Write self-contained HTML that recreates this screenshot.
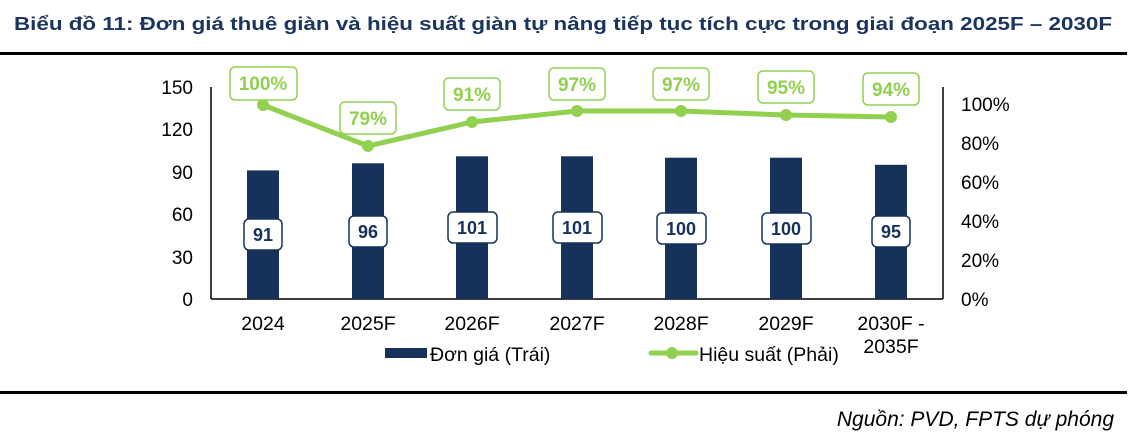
<!DOCTYPE html>
<html><head><meta charset="utf-8"><style>
html,body{margin:0;padding:0;background:#fff;}
svg{display:block;font-family:"Liberation Sans",Arial,sans-serif;}
</style></head><body>
<svg width="1146" height="441" viewBox="0 0 1146 441">
<text x="14" y="30" font-size="18.5" font-weight="bold" fill="#1b3560" textLength="1098" lengthAdjust="spacingAndGlyphs">Biểu đồ 11: Đơn giá thuê giàn và hiệu suất giàn tự nâng tiếp tục tích cực trong giai đoạn 2025F – 2030F</text>
<rect x="0" y="52" width="1127" height="3" fill="#000"/>
<rect x="0" y="391" width="1127" height="3" fill="#000"/>
<line x1="211" y1="87" x2="211" y2="299" stroke="#000" stroke-width="1.5"/>
<line x1="943" y1="87" x2="943" y2="299" stroke="#000" stroke-width="1.5"/>
<line x1="211" y1="299" x2="943" y2="299" stroke="#000" stroke-width="1.5"/>
<g font-size="19" fill="#000" text-anchor="end">
<text x="193" y="94">150</text><text x="193" y="136">120</text><text x="193" y="179">90</text><text x="193" y="221">60</text><text x="193" y="264">30</text><text x="193" y="306">0</text>
</g>
<g font-size="19" fill="#000">
<text x="961" y="111">100%</text><text x="961" y="150">80%</text><text x="961" y="189">60%</text><text x="961" y="228">40%</text><text x="961" y="267">20%</text><text x="961" y="306">0%</text>
</g>
<g fill="#17325a">
<rect x="247" y="170.4" width="32" height="128.6"/>
<rect x="352" y="163.3" width="32" height="135.7"/>
<rect x="456" y="156.3" width="32" height="142.7"/>
<rect x="561" y="156.3" width="32" height="142.7"/>
<rect x="665" y="157.7" width="32" height="141.3"/>
<rect x="770" y="157.7" width="32" height="141.3"/>
<rect x="875" y="164.8" width="32" height="134.2"/>
</g>
<g fill="#fff" stroke="#17325a" stroke-width="1.5">
<rect x="244" y="219" width="38" height="31" rx="5"/>
<rect x="349" y="216" width="38" height="31" rx="5"/>
<rect x="448" y="212" width="49" height="31" rx="5"/>
<rect x="553" y="212" width="49" height="31" rx="5"/>
<rect x="657" y="213" width="49" height="31" rx="5"/>
<rect x="762" y="213" width="49" height="31" rx="5"/>
<rect x="872" y="216" width="38" height="31" rx="5"/>
</g>
<g font-size="18" font-weight="bold" fill="#17325a" text-anchor="middle">
<text x="263" y="241">91</text><text x="368" y="238">96</text><text x="472" y="234">101</text><text x="577" y="234">101</text><text x="681" y="235">100</text><text x="786" y="235">100</text><text x="891" y="238">95</text>
</g>
<polyline points="263,105 368,146 472,122 577,111 681,111 786,115 891,117" fill="none" stroke="#92d050" stroke-width="5" stroke-linejoin="round"/>
<g fill="#92d050">
<circle cx="263" cy="105" r="6"/><circle cx="368" cy="146" r="6"/><circle cx="472" cy="122" r="6"/><circle cx="577" cy="111" r="6"/><circle cx="681" cy="111" r="6"/><circle cx="786" cy="115" r="6"/><circle cx="891" cy="117" r="6"/>
</g>
<g fill="#fff" stroke="#92d050" stroke-width="1.5">
<rect x="230" y="67" width="67" height="33" rx="5"/>
<rect x="340" y="102" width="56" height="32" rx="5"/>
<rect x="444" y="78" width="56" height="32" rx="5"/>
<rect x="549" y="68" width="56" height="32" rx="5"/>
<rect x="653" y="68" width="56" height="32" rx="5"/>
<rect x="758" y="71" width="56" height="32" rx="5"/>
<rect x="863" y="73" width="56" height="32" rx="5"/>
</g>
<g font-size="19" font-weight="bold" fill="#92d050" text-anchor="middle">
<text x="263" y="90">100%</text><text x="368" y="125">79%</text><text x="472" y="101">91%</text><text x="577" y="91">97%</text><text x="681" y="91">97%</text><text x="786" y="94">95%</text><text x="891" y="96">94%</text>
</g>
<g font-size="19.5" fill="#000" text-anchor="middle">
<text x="263" y="330">2024</text><text x="368" y="330">2025F</text><text x="472" y="330">2026F</text><text x="577" y="330">2027F</text><text x="681" y="330">2028F</text><text x="786" y="330">2029F</text><text x="891" y="330">2030F -</text><text x="891" y="353">2035F</text>
</g>
<rect x="385" y="348" width="42" height="10" fill="#17325a"/>
<text x="430" y="361" font-size="19.5" fill="#000">Đơn giá (Trái)</text>
<line x1="651" y1="353" x2="696" y2="353" stroke="#92d050" stroke-width="5" stroke-linecap="round"/>
<circle cx="672" cy="353" r="6" fill="#92d050"/>
<text x="699" y="361" font-size="19.5" fill="#000">Hiệu suất (Phải)</text>
<text x="1114" y="426" font-size="21" font-style="italic" fill="#000" text-anchor="end">Nguồn: PVD, FPTS dự phóng</text>
</svg>
</body></html>
